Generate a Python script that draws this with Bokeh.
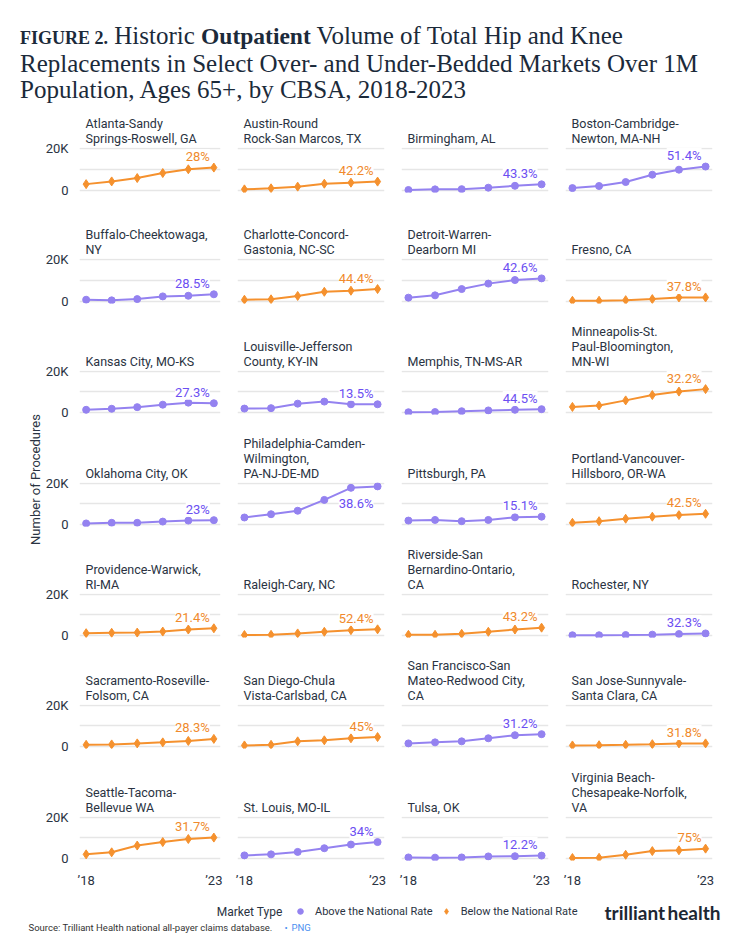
import math
from bokeh.plotting import figure
from bokeh.layouts import column, row, gridplot
from bokeh.models import Range1d, FixedTicker, Div, Label, Legend, LegendItem, ColumnDataSource
from bokeh.core.properties import value
from bokeh.embed import file_html
from bokeh.resources import INLINE

# ---------------- data ----------------
years = [2018, 2019, 2020, 2021, 2022, 2023]
year_labels = {2018: "\u201918", 2023: "\u201923"}

titles = [
    "Atlanta-Sandy\nSprings-Roswell, GA", "Austin-Round\nRock-San Marcos, TX", "Birmingham, AL", "Boston-Cambridge-\nNewton, MA-NH",
    "Buffalo-Cheektowaga,\nNY", "Charlotte-Concord-\nGastonia, NC-SC", "Detroit-Warren-\nDearborn MI", "Fresno, CA",
    "Kansas City, MO-KS", "Louisville-Jefferson\nCounty, KY-IN", "Memphis, TN-MS-AR", "Minneapolis-St.\nPaul-Bloomington,\nMN-WI",
    "Oklahoma City, OK", "Philadelphia-Camden-\nWilmington,\nPA-NJ-DE-MD", "Pittsburgh, PA", "Portland-Vancouver-\nHillsboro, OR-WA",
    "Providence-Warwick,\nRI-MA", "Raleigh-Cary, NC", "Riverside-San\nBernardino-Ontario,\nCA", "Rochester, NY",
    "Sacramento-Roseville-\nFolsom, CA", "San Diego-Chula\nVista-Carlsbad, CA", "San Francisco-San\nMateo-Redwood City,\nCA", "San Jose-Sunnyvale-\nSanta Clara, CA",
    "Seattle-Tacoma-\nBellevue WA", "St. Louis, MO-IL", "Tulsa, OK", "Virginia Beach-\nChesapeake-Norfolk,\nVA",
]

market_type = [
    "Below", "Below", "Above", "Above",
    "Above", "Below", "Above", "Below",
    "Above", "Above", "Above", "Below",
    "Above", "Above", "Above", "Below",
    "Below", "Below", "Below", "Above",
    "Below", "Below", "Above", "Below",
    "Below", "Above", "Above", "Below",
]

growth_labels = [
    "28%", "42.2%", "43.3%", "51.4%",
    "28.5%", "44.4%", "42.6%", "37.8%",
    "27.3%", "13.5%", "44.5%", "32.2%",
    "23%", "38.6%", "15.1%", "42.5%",
    "21.4%", "52.4%", "43.2%", "32.3%",
    "28.3%", "45%", "31.2%", "31.8%",
    "31.7%", "34%", "12.2%", "75%",
]

atlanta = [3000, 4300, 5900, 8300, 10100, 10900]
austin = [500, 1000, 1800, 3200, 3700, 4200]
birmingham = [200, 500, 600, 1300, 2200, 2900]
boston = [1100, 2100, 4000, 7500, 9900, 11400]
buffalo = [800, 500, 1100, 2400, 2700, 3400]
charlotte = [800, 1000, 2600, 4600, 5100, 5900]
detroit = [1800, 2900, 5900, 8500, 10200, 11000]
fresno = [300, 300, 600, 1100, 1900, 1900]
kansas_city = [1300, 1800, 2600, 3800, 4800, 4500]
louisville = [1900, 2100, 4300, 5300, 4000, 4000]
memphis = [100, 200, 600, 1000, 1300, 1600]
minneapolis = [2700, 3400, 5900, 8500, 10200, 11400]
oklahoma_city = [500, 800, 800, 1400, 1900, 2100]
philadelphia = [3400, 5000, 6700, 12000, 17900, 18600]
pittsburgh = [1900, 2200, 1600, 2200, 3500, 3800]
portland = [800, 1600, 2800, 3800, 4600, 5200]
providence = [1100, 1300, 1400, 1900, 2900, 3500]
raleigh = [200, 300, 1000, 1800, 2600, 3000]
riverside = [300, 300, 800, 1800, 2900, 3800]
rochester = [100, 100, 200, 400, 700, 1000]
sacramento = [800, 1000, 1500, 2000, 2700, 3700]
san_diego = [500, 800, 2500, 3000, 4000, 4600]
san_francisco = [1500, 2000, 2500, 4000, 5500, 6000]
san_jose = [500, 600, 800, 1100, 1500, 1500]
seattle = [2000, 3000, 6300, 8000, 9500, 10200]
st_louis = [1500, 2000, 3200, 5000, 6800, 8000]
tulsa = [500, 400, 500, 1000, 1100, 1400]
virginia_beach = [200, 300, 1800, 3600, 4000, 4800]

series = [
    atlanta, austin, birmingham, boston,
    buffalo, charlotte, detroit, fresno,
    kansas_city, louisville, memphis, minneapolis,
    oklahoma_city, philadelphia, pittsburgh, portland,
    providence, raleigh, riverside, rochester,
    sacramento, san_diego, san_francisco, san_jose,
    seattle, st_louis, tulsa, virginia_beach,
]

y_ticks = [0, 10000, 20000]
y_tick_labels = {0: "0", 10000: "", 20000: "20K"}

# ---------------- style ----------------
SANS = "Roboto"
DARK = "#2a3342"
GRID = "#e6e6e6"
STYLE = {
    "Above": dict(line="#9482f0", text="#6c4ff2", marker="circle", size=7),
    "Below": dict(line="#f5912e", text="#f08a2c", marker="diamond", size=9),
}
row_heights = [101, 111, 112, 111, 111, 112, 125]
row_tops = [40, 50, 50, 50, 50, 50, 50]
FRAME_H = 45

figs = []
for i, (name, vals, kind, lab) in enumerate(zip(titles, series, market_type, growth_labels)):
    r, c = divmod(i, 4)
    first_col = c == 0
    last_row = r == len(row_heights) - 1
    h = row_heights[r]
    top = row_tops[r]
    w = 186 if first_col else 164
    p = figure(
        width=w, height=h,
        x_range=Range1d(2017.74, 2023.26), y_range=Range1d(-1000, 20500),
        x_axis_location="below" if last_row else None,
        y_axis_location="left" if first_col else None,
        min_border_left=31 if first_col else 9, min_border_right=8,
        min_border_top=top, min_border_bottom=h - top - FRAME_H,
        output_backend="svg", toolbar_location=None, title=name,
    )
    p.outline_line_color = None
    p.xgrid.visible = False
    p.ygrid.ticker = FixedTicker(ticks=y_ticks)
    p.ygrid.grid_line_color = GRID
    p.ygrid.grid_line_width = 1.5
    p.title.text_font = SANS
    p.title.text_font_size = "12.5px"
    p.title.text_font_style = "normal"
    p.title.text_color = DARK
    p.title.offset = 6
    p.title.standoff = 4
    p.title.text_line_height = 1.0
    if first_col:
        ax = p.yaxis[0]
        ax.ticker = FixedTicker(ticks=y_ticks)
        ax.major_label_overrides = y_tick_labels
        ax.axis_line_color = None
        ax.major_tick_line_color = None
        ax.minor_tick_line_color = None
        ax.major_label_standoff = 5
        ax.major_label_text_font = SANS
        ax.major_label_text_font_size = "13px"
        ax.major_label_text_color = DARK
    if last_row:
        ax = p.xaxis[0]
        ax.ticker = FixedTicker(ticks=[years[0], years[-1]])
        ax.major_label_overrides = year_labels
        ax.axis_line_color = None
        ax.major_tick_line_color = None
        ax.minor_tick_line_color = None
        ax.major_label_standoff = 6
        ax.major_label_text_font = SANS
        ax.major_label_text_font_size = "13px"
        ax.major_label_text_color = DARK

    st = STYLE[kind]
    src = ColumnDataSource(dict(x=years, y=vals))
    p.line("x", "y", source=src, line_color=st["line"], line_width=2)
    p.scatter("x", "y", source=src, marker=st["marker"], size=st["size"],
              fill_color=st["line"], line_color=st["line"])
    below = vals[-1] > 15000
    p.text(x=[years[-1]], y=[vals[-1]], text=[lab], text_align="right", text_baseline="middle",
           x_offset=-4, y_offset=17 if below else -11,
           text_font=value(SANS), text_font_size="13px", text_color=st["text"],
           background_fill_color="white")
    figs.append(p)

grid = gridplot([figs[k:k + 4] for k in range(0, len(figs), 4)], toolbar_location=None)

# y-axis label panel
grid_h = sum(row_heights)
lab_fig = figure(width=34, height=grid_h, x_range=Range1d(0, 34), y_range=Range1d(grid_h, 0),
                 x_axis_location=None, y_axis_location=None, min_border=0,
                 output_backend="svg", toolbar_location=None)
lab_fig.outline_line_color = None
lab_fig.grid.visible = False
lab_fig.add_layout(Label(x=27, y=372, text="Number of Procedures", angle=math.pi / 2,
                         text_align="center", text_baseline="middle", text_font=SANS,
                         text_font_size="13px", text_color=DARK))

# title
title_div = Div(
    text=('<div style="font-family:\'Liberation Serif\',serif;font-size:25px;line-height:26px;'
          'color:#1b2a3a;padding:15px 0 0 12px;white-space:nowrap;">'
          '<span style="font-weight:bold;font-size:18px;">FIGURE 2.</span> Historic '
          '<span style="font-weight:bold;font-size:23.5px;">Outpatient</span> Volume of Total Hip and Knee<br>'
          'Replacements in Select Over- and Under-Bedded Markets Over 1M<br>'
          'Population, Ages 65+, by CBSA, 2018-2023</div>'),
    width=724, height=99, margin=(0, 0, 0, 0))

# legend / source / logo panel
NAN = float("nan")
bottom = figure(width=724, height=44, x_range=Range1d(0, 724), y_range=Range1d(44, 0),
                x_axis_location=None, y_axis_location=None, min_border=0,
                output_backend="svg", toolbar_location=None)
bottom.outline_line_color = None
bottom.grid.visible = False
r_above = bottom.scatter(x=[NAN], y=[NAN], marker="circle", size=7, fill_color=STYLE["Above"]["line"],
                         line_color=STYLE["Above"]["line"])
r_below = bottom.scatter(x=[NAN], y=[NAN], marker="diamond", size=9, fill_color=STYLE["Below"]["line"],
                         line_color=STYLE["Below"]["line"])
legend = Legend(items=[LegendItem(label="Above the National Rate", renderers=[r_above]),
                       LegendItem(label="Below the National Rate", renderers=[r_below])],
                orientation="horizontal", location=(285, 16), padding=0, margin=0,
                spacing=6, glyph_width=14, glyph_height=14, label_height=14, label_standoff=8,
                label_text_font=SANS, label_text_font_size="11px", label_text_color=DARK,
                border_line_color=None, background_fill_alpha=0)
bottom.add_layout(legend)
bottom.add_layout(Label(x=274, y=21, text="Market Type", text_align="right", text_baseline="middle",
                        text_font=SANS, text_font_size="12px", text_color=DARK))
bottom.add_layout(Label(x=20, y=37, text="Source: Trilliant Health national all-payer claims database.",
                        text_baseline="middle", text_font=SANS, text_font_size="9.5px", text_color="#333333"))
bottom.add_layout(Label(x=276, y=37, text="\u2022", text_baseline="middle", text_font=SANS,
                        text_font_size="9.5px", text_color="#4a8ff0"))
bottom.add_layout(Label(x=283, y=37, text="PNG", text_baseline="middle", text_font=SANS,
                        text_font_size="9.5px", text_color="#4a8ff0"))
bottom.add_layout(Label(x=596, y=22, text="trilliant", text_baseline="middle", text_font="Lato",
                        text_font_style="bold", text_font_size="19px", text_color="#1d2733"))
bottom.add_layout(Label(x=659, y=22, text="health", text_baseline="middle", text_font="Lato",
                        text_font_style="bold", text_font_size="19px", text_color="#1d2733"))

layout = column(title_div, row(lab_fig, grid), bottom, margin=(8, 0, 0, 8))
open("out.html", "w").write(file_html(layout, INLINE))
